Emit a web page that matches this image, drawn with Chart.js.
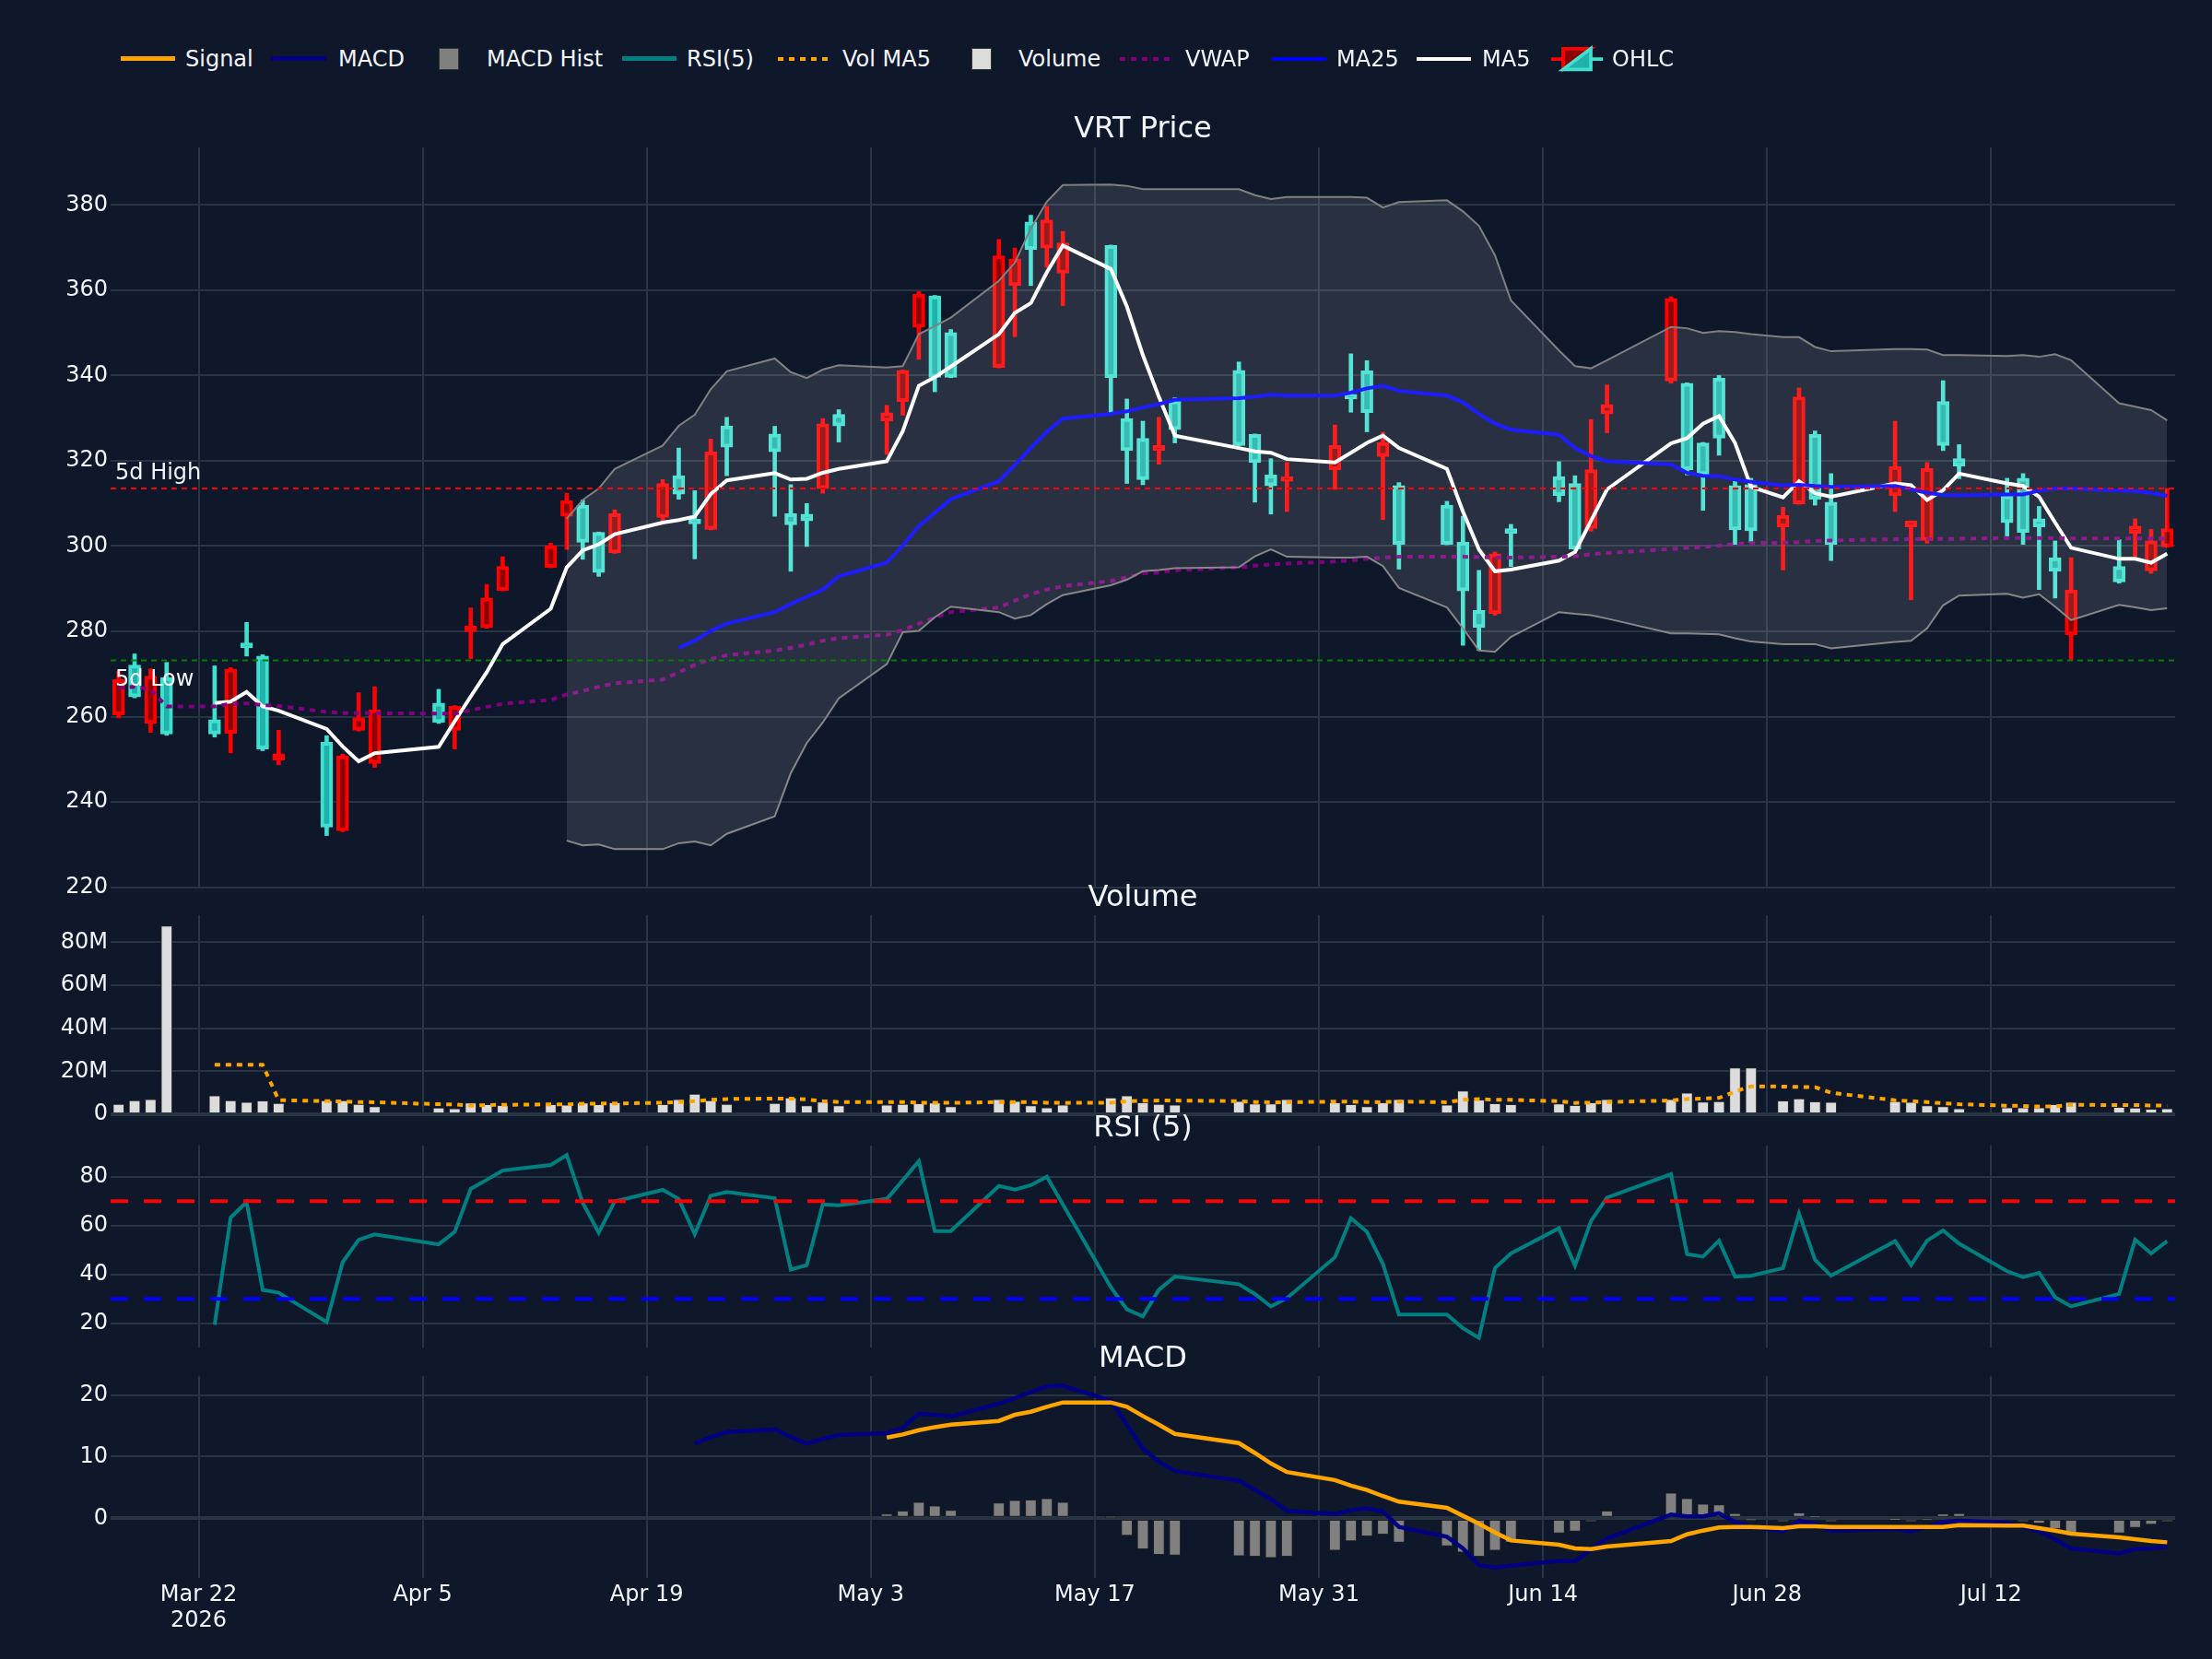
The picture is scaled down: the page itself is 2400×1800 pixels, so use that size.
<!DOCTYPE html>
<html>
<head>
<meta charset="utf-8">
<title>VRT Price</title>
<script src="https://cdn.jsdelivr.net/npm/chart.js@4.4.1/dist/chart.umd.min.js"></script>
<style>
  html, body { margin: 0; padding: 0; background: #0f172a; }
  #page { position: relative; width: 2400px; height: 1800px; overflow: hidden; background: #0f172a;
          font-family: "DejaVu Sans", sans-serif; color: #f2f5fa; }
  canvas { position: absolute; left: 0; }
  .title { position: absolute; font-size: 32px; line-height: 1; white-space: nowrap; transform: translate(-50%, -50%); }
  .lbl { position: absolute; top: 64px; font-size: 24px; line-height: 1; white-space: nowrap; transform: translateY(-50%); }
  .sw { position: absolute; }
  .dots { height: 4px; top: 62px; }
</style>
</head>
<body>
<div id="page">
  <canvas id="priceChart" width="2400" height="843" style="top:140px"></canvas>
  <canvas id="volumeChart" width="2400" height="256" style="top:973px"></canvas>
  <canvas id="rsiChart" width="2400" height="259" style="top:1223px"></canvas>
  <canvas id="macdChart" width="2400" height="327" style="top:1473px"></canvas>

  <div class="title" style="left:1240px;top:138px">VRT Price</div>
  <div class="title" style="left:1240px;top:972px">Volume</div>
  <div class="title" style="left:1240px;top:1222px">RSI (5)</div>
  <div class="title" style="left:1240px;top:1472px">MACD</div>

  <!-- legend -->
  <div class="sw" style="left:131px;top:61px;width:59px;height:5px;background:orange"></div>
  <div class="lbl" style="left:201px">Signal</div>
  <div class="sw" style="left:294px;top:61px;width:60px;height:5px;background:navy"></div>
  <div class="lbl" style="left:367px">MACD</div>
  <div class="sw" style="left:476px;top:52px;width:20px;height:22px;background:#808080;border:1px solid #333"></div>
  <div class="lbl" style="left:528px">MACD Hist</div>
  <div class="sw" style="left:675px;top:61px;width:59px;height:5px;background:teal"></div>
  <div class="lbl" style="left:745px">RSI(5)</div>
  <div class="sw dots" style="left:844px;width:56px;background:repeating-linear-gradient(to right, orange 0 6px, transparent 6px 12px)"></div>
  <div class="lbl" style="left:914px">Vol MA5</div>
  <div class="sw" style="left:1054px;top:52px;width:20px;height:22px;background:#dcdcdc;border:1px solid #333"></div>
  <div class="lbl" style="left:1105px">Volume</div>
  <div class="sw dots" style="left:1215px;width:54px;background:repeating-linear-gradient(to right, purple 0 6px, transparent 6px 12px)"></div>
  <div class="lbl" style="left:1286px">VWAP</div>
  <div class="sw" style="left:1380px;top:62px;width:59px;height:4px;background:blue"></div>
  <div class="lbl" style="left:1450px">MA25</div>
  <div class="sw" style="left:1537px;top:62px;width:59px;height:4px;background:white"></div>
  <div class="lbl" style="left:1608px">MA5</div>
  <svg class="sw" style="left:1681px;top:47px" width="60" height="34" viewBox="-16 -9 32 18">
    <path d="M-15,0H-8M-8,6V-6H8Z" fill="darkred" stroke="red" stroke-width="2"/>
    <path d="M15,0H8M8,-6V6H-8Z" fill="lightseagreen" stroke="turquoise" stroke-width="2"/>
  </svg>
  <div class="lbl" style="left:1749px">OHLC</div>
</div>

<script>
// ---- data ----
const dates = [
  '2026-03-17','2026-03-18','2026-03-19','2026-03-20',
  '2026-03-23','2026-03-24','2026-03-25','2026-03-26','2026-03-27',
  '2026-03-30','2026-03-31','2026-04-01','2026-04-02',
  '2026-04-06','2026-04-07','2026-04-08','2026-04-09','2026-04-10',
  '2026-04-13','2026-04-14','2026-04-15','2026-04-16','2026-04-17',
  '2026-04-20','2026-04-21','2026-04-22','2026-04-23','2026-04-24',
  '2026-04-27','2026-04-28','2026-04-29','2026-04-30','2026-05-01',
  '2026-05-04','2026-05-05','2026-05-06','2026-05-07','2026-05-08',
  '2026-05-11','2026-05-12','2026-05-13','2026-05-14','2026-05-15',
  '2026-05-18','2026-05-19','2026-05-20','2026-05-21','2026-05-22',
  '2026-05-26','2026-05-27','2026-05-28','2026-05-29',
  '2026-06-01','2026-06-02','2026-06-03','2026-06-04','2026-06-05',
  '2026-06-08','2026-06-09','2026-06-10','2026-06-11','2026-06-12',
  '2026-06-15','2026-06-16','2026-06-17','2026-06-18',
  '2026-06-22','2026-06-23','2026-06-24','2026-06-25','2026-06-26','2026-06-27',
  '2026-06-29','2026-06-30','2026-07-01','2026-07-02',
  '2026-07-06','2026-07-07','2026-07-08','2026-07-09','2026-07-10',
  '2026-07-13','2026-07-14','2026-07-15','2026-07-16','2026-07-17',
  '2026-07-20','2026-07-21','2026-07-22','2026-07-23'
];

const opens = [
  268.7, 264.6, 269.5, 255.9, 255.9, 271.2, 276.1, 252.4, 251.3, 234.1,
  250.8, 259.7, 261.6, 258.6, 262.4, 281.3, 287.8, 295.2, 300.1, 310.7,
  300.9, 293.8, 307.6, 314.7, 312.2, 305.2, 322.1, 323.2, 322.1, 305.0,
  305.9, 328.7, 328.2, 331.3, 341.2, 359.1, 339.6, 339.6, 368.1, 367.4,
  369.6, 376.5, 371.1, 339.5, 322.4, 315.6, 323.6, 327.3, 323.6, 319.6,
  314.1, 315.9, 323.6, 334.5, 331.3, 324.3, 300.4, 300.4, 289.5, 280.9,
  298.2, 303.0, 311.8, 299.3, 317.9, 333.2, 358.1, 317.9, 316.7, 325.3,
  303.8, 303.6, 307.2, 335.0, 311.0, 300.4, 318.7, 305.9, 318.2, 323.6,
  318.7, 305.5, 303.2, 304.5, 294.1, 289.7, 291.6, 304.7, 301.2, 304.1
];
const highs = [
  270.7, 274.7, 271.2, 272.7, 271.9, 271.5, 282.1, 274.5, 256.8, 255.5,
  251.2, 265.6, 267.0, 266.4, 262.6, 285.5, 291.0, 297.5, 300.7, 312.4,
  310.8, 303.3, 308.5, 315.6, 323.0, 313.0, 325.1, 330.2, 328.1, 314.4,
  310.0, 329.9, 332.0, 333.0, 341.3, 359.7, 358.8, 350.8, 371.9, 369.9,
  377.6, 379.7, 373.8, 370.6, 334.5, 329.3, 330.2, 334.8, 343.2, 326.3,
  320.5, 319.6, 328.4, 345.1, 343.5, 326.7, 314.9, 310.5, 307.0, 294.3,
  298.6, 305.1, 319.8, 316.5, 329.7, 337.8, 358.5, 338.3, 324.3, 340.0,
  315.2, 315.9, 309.1, 337.1, 327.0, 317.0, 329.3, 305.9, 319.6, 338.8,
  323.8, 315.9, 317.0, 309.3, 301.2, 297.3, 301.5, 306.4, 303.9, 313.5
];
const lows = [
  259.7, 264.4, 256.3, 255.6, 255.2, 251.5, 274.2, 252.0, 248.7, 232.1,
  233.0, 256.6, 248.1, 258.4, 252.4, 273.6, 280.7, 289.5, 294.9, 299.2,
  296.9, 292.9, 298.3, 305.9, 311.0, 297.0, 303.8, 316.5, 307.0, 294.1,
  299.9, 312.4, 324.4, 321.5, 330.7, 343.8, 336.2, 339.5, 341.8, 349.1,
  361.1, 365.4, 356.4, 330.8, 314.7, 314.4, 319.2, 324.2, 323.5, 310.3,
  307.5, 308.1, 313.3, 331.4, 326.8, 306.2, 294.6, 300.3, 276.7, 275.5,
  283.8, 295.2, 310.4, 299.2, 303.5, 326.6, 338.2, 316.7, 308.4, 321.3,
  300.4, 300.9, 294.4, 309.8, 309.6, 296.6, 308.1, 287.4, 300.7, 322.4,
  315.8, 302.1, 300.4, 289.8, 287.8, 273.2, 291.3, 297.0, 293.6, 299.7
];
const closes = [
  260.4, 272.1, 258.4, 269.1, 259.3, 256.1, 277.3, 274.2, 249.8, 254.0,
  233.2, 256.8, 249.0, 263.2, 256.8, 279.9, 280.9, 289.6, 295.0, 307.0,
  309.6, 303.2, 298.4, 306.7, 316.5, 305.8, 303.9, 328.2, 326.3, 307.6,
  307.5, 313.5, 330.9, 329.3, 333.9, 351.3, 358.7, 350.1, 341.9, 361.1,
  376.0, 369.9, 364.0, 370.5, 329.9, 325.3, 322.4, 334.1, 341.2, 326.2,
  316.7, 315.2, 317.9, 335.0, 341.1, 321.0, 314.2, 309.6, 300.9, 284.9,
  284.1, 303.8, 316.3, 314.7, 304.1, 331.0, 338.7, 338.2, 324.2, 339.4,
  314.2, 314.4, 304.5, 309.9, 326.2, 310.3, 311.8, 304.5, 301.3, 333.9,
  320.5, 311.8, 315.9, 306.4, 297.3, 279.2, 295.2, 303.0, 294.2, 299.8
];

const ma5 = [
  null, null, null, null,
  263.2, 263.5, 265.8, 262.4, 261.4, 257.1, 253.0, 249.5, 251.4, 252.9,
  258.9, 264.7, 270.4, 277.0, 285.3, 295.0, 299.0, 300.4, 302.8, 305.5,
  306.1, 306.9, 312.2, 315.4, 317.1, 315.6, 315.8, 317.2, 318.1, 319.9,
  327.0, 337.6, 339.6, 342.1, 349.7, 354.7, 357.0, 364.2, 370.5, 365.0,
  356.2, 344.8, 335.0, 325.9, 323.0, 322.2, 321.9, 320.4, 319.6, 321.9,
  324.2, 325.9, 323.0, 318.1, 308.1, 299.2, 294.1, 294.5, 296.6, 298.6,
  305.9, 313.3, 324.1, 325.3, 328.7, 330.5, 324.2, 313.9, 311.4, 315.2,
  312.4, 311.6, 314.7, 314.3, 310.8, 313.1, 317.0, 314.7, 314.1, 311.6,
  305.5, 299.6, 297.0, 297.0, 296.1, 298.2
];
const ma25 = [
  null, null, null, null, null, null, null, null, null, null, null, null,
  null, null, null, null, null, null, null, null, null, null, null, null,
  276.1, 277.8, 280.1, 281.8, 284.5, 286.4, 288.1, 289.8, 292.9, 296.1,
  300.1, 304.7, 307.8, 311.0, 315.2, 319.0, 323.0, 326.8, 329.9, 331.0,
  331.6, 332.5, 333.3, 334.3, 334.7, 335.0, 335.5, 335.3, 335.3, 336.0,
  337.0, 337.6, 336.4, 335.3, 333.7, 331.0, 328.7, 327.3, 326.1, 323.0,
  321.1, 319.9, 319.2, 317.2, 316.5, 316.4, 315.6, 315.1, 314.2, 314.4,
  314.1, 313.9, 314.1, 313.3, 312.5, 312.0, 311.9, 312.1, 312.1, 313.0,
  313.5, 313.5, 313.0, 312.9, 312.5, 311.8
];
const vwap = [
  266.7, 267.0, 266.3, 262.4, 262.4, 263.0, 263.1, 262.7, 262.5, 261.1,
  260.8, 260.8, 260.8, 260.7, 260.7, 261.5, 262.3, 263.0, 263.9, 265.2,
  266.0, 267.0, 267.8, 268.7, 270.4, 272.1, 273.5, 274.4, 275.5, 276.1,
  276.9, 277.8, 278.4, 279.2, 280.3, 281.8, 283.2, 284.5, 285.6, 287.2,
  288.7, 289.8, 290.6, 291.8, 292.7, 293.6, 293.8, 294.3, 295.0, 295.4,
  295.7, 295.9, 296.4, 296.6, 297.0, 297.3, 297.5, 297.5, 297.5, 297.4,
  297.3, 297.3, 297.5, 297.6, 298.1, 298.4, 299.3, 299.6, 299.8, 300.1,
  300.5, 300.7, 300.8, 300.9, 301.2, 301.3, 301.6, 301.6, 301.6, 301.7,
  301.7, 301.9, 301.9, 301.9, 301.9, 301.8, 301.8, 301.8, 301.8, 301.7
];
const bbUpper = [
  null, null, null, null, null, null, null, null, null, null,
  null, null, null, null, null, null, null, null, null,
  306.4, 310.8, 313.5, 318.1, 323.6, 328.2, 330.8, 336.8, 341.0, 344.0,
  340.8, 339.4, 341.4, 342.4, 341.9, 342.2, 349.7, 351.6, 353.6, 362.2,
  366.5, 374.5, 380.8, 384.7, 384.8, 384.5, 383.7, 383.7, 383.7, 383.7,
  382.3, 381.4, 381.9, 381.9, 381.9, 381.7, 379.4, 380.7, 381.1, 378.5,
  375.1, 368.2, 357.6, 345.9, 342.2, 341.7, 343.6, 351.4, 351.1, 350.0,
  350.4, 350.2, 349.7, 349.0, 349.0, 346.7, 345.7, 346.2, 346.2, 346.1,
  344.8, 344.8, 344.6, 344.8, 344.4, 345.0, 343.6, 333.5, 332.7, 331.9,
  329.5
];
const bbLower = [
  null, null, null, null, null, null, null, null, null, null,
  null, null, null, null, null, null, null, null, null,
  230.9, 229.8, 230.0, 228.9, 228.9, 230.3, 230.7, 229.8, 232.5, 236.6,
  246.7, 253.8, 258.6, 264.3, 272.3, 279.8, 280.1, 283.3, 285.8, 284.5,
  283.0, 283.8, 286.4, 288.5, 290.8, 292.1, 294.1, 294.4, 294.8, 295.0,
  297.6, 299.2, 297.5, 297.3, 297.3, 297.5, 295.3, 290.2, 285.6, 280.7,
  275.5, 275.2, 278.7, 284.5, 284.1, 283.8, 283.0, 279.5, 279.5, 279.4,
  279.3, 278.4, 277.6, 277.0, 277.0, 277.0, 276.0, 277.5, 277.8, 280.7,
  286.1, 288.4, 288.8, 287.9, 288.7, 285.8, 282.6, 286.2, 285.6, 285.0,
  285.4
];

// volume in millions of shares
const volume = [
  4.7, 6.4, 6.9, 87.6, 8.6, 6.4, 5.6, 6.3, 5.1, 6.4,
  6.4, 4.7, 3.6, 3.0, 2.6, 5.3, 4.6, 4.1, 4.6, 4.4,
  5.3, 4.6, 5.4, 4.6, 6.9, 9.4, 6.4, 4.7, 5.1, 7.7,
  4.0, 5.7, 4.0, 4.4, 4.7, 5.0, 5.3, 3.6, 6.9, 6.1,
  4.0, 3.1, 4.4, 7.7, 8.6, 5.4, 4.7, 4.4, 6.1, 4.9,
  4.9, 6.9, 5.4, 4.6, 3.6, 5.4, 6.9, 4.4, 10.9, 6.7,
  5.0, 4.6, 4.9, 4.1, 5.4, 6.9, 6.9, 9.9, 5.7, 6.0,
  21.6, 21.6, 6.3, 7.3, 5.9, 5.6, 6.0, 5.6, 4.0, 3.6,
  2.6, 3.1, 3.1, 3.1, 4.6, 5.6, 3.3, 3.0, 2.4, 2.6
];
const volMA5 = [
  null, null, null, null,
  23.0, 23.0, 23.0, 23.0, 6.6, 6.1, 6.0, 5.7, 5.6, 4.7,
  4.6, 4.0, 4.3, 4.4, 4.6, 4.6, 4.9, 5.0, 5.0, 5.4,
  5.7, 6.1, 6.7, 7.1, 7.3, 7.3, 6.9, 6.1, 5.7, 5.7,
  5.7, 5.4, 5.4, 5.3, 5.7, 5.7, 5.6, 5.4, 5.3, 5.4,
  6.0, 6.3, 6.4, 6.4, 6.1, 5.7, 5.6, 5.6, 5.9, 5.9,
  5.7, 5.7, 5.9, 5.6, 6.7, 7.1, 6.7, 6.7, 6.1, 5.3,
  5.4, 5.7, 6.4, 7.1, 7.3, 7.6, 10.6, 13.0, 12.9, 12.7,
  12.6, 10.0, 6.5, 6.1, 5.7, 5.1, 4.7, 4.0, 3.9, 3.6,
  3.7, 4.4, 4.3, 4.3, 4.1, 4.0
];

const rsi = [
  null, null, null, null,
  19.4, 63.3, 69.6, 33.7, 32.5, 20.5, 45.0, 54.2, 56.4, 52.3,
  57.4, 75.0, 78.7, 82.5, 84.8, 88.8, 69.3, 57.1, 69.9, 74.6,
  70.9, 56.5, 72.2, 73.7, 71.2, 42.0, 43.8, 68.7, 68.3, 70.9,
  78.5, 86.3, 57.7, 57.7, 76.2, 74.7, 76.5, 80.0, 68.7, 34.7,
  25.7, 22.8, 33.7, 39.1, 36.0, 32.0, 26.9, 30.3, 47.0, 63.0,
  57.4, 44.2, 23.6, 23.6, 18.0, 14.0, 42.6, 48.6, 58.9, 43.6,
  61.8, 71.4, 81.0, 48.3, 47.3, 53.8, 39.1, 39.4, 42.6, 64.9,
  46.0, 39.5, 53.6, 43.8, 53.8, 58.0, 52.6, 41.3, 38.9, 40.6,
  30.7, 26.9, 32.0, 54.2, 48.6, 53.6
];

const macd = [
  null, null, null, null, null, null, null, null, null, null,
  null, null, null, null, null, null, null, null, null, null,
  null, null, null, null, null,
  12.1, 13.2, 14.0, 14.4, 13.2, 12.1, 12.9, 13.5,
  13.8, 14.7, 17.0, 16.8, 16.5, 18.6, 19.5, 20.5, 21.4, 21.5,
  19.1, 15.2, 11.3, 9.2, 7.7, 6.1, 4.6, 3.1, 1.2, 0.7,
  1.3, 1.6, 1.1, -1.4, -3.0, -4.9, -7.6, -8.0, -7.7, -6.9,
  -7.0, -5.1, -3.3, 0.6, 0.3, 0.3, 0.8, -0.6, -1.4, -2.1,
  -0.4, -0.9, -2.0, -1.7, -2.1, -1.4, -0.6, -0.4, -0.7, -1.4,
  -2.1, -3.4, -4.9, -5.7, -5.0, -4.9, -4.6
];
const signal = [
  null, null, null, null, null, null, null, null, null, null,
  null, null, null, null, null, null, null, null, null, null,
  null, null, null, null, null, null, null, null, null, null,
  null, null, null,
  13.1, 13.6, 14.3, 14.8, 15.2, 15.8, 16.8, 17.3, 18.1, 18.8,
  18.8, 18.1, 16.6, 15.2, 13.7, 12.2, 10.6, 8.9, 7.5, 6.2,
  5.3, 4.6, 3.6, 2.7, 1.7, 0.4, -0.9, -2.3, -3.6, -4.3,
  -4.9, -5.0, -4.6, -3.7, -2.6, -2.0, -1.5, -1.4, -1.4, -1.6,
  -1.3, -1.3, -1.4, -1.4, -1.4, -1.4, -1.4, -1.1, -1.2, -1.2,
  -1.6, -2.0, -2.5, -3.1, -3.4, -3.7, -3.9
];
const macdHist = [
  null, null, null, null, null, null, null, null, null, null,
  null, null, null, null, null, null, null, null, null, null,
  null, null, null, null, null, null, null, null, null, null,
  null, null, null,
  0.7, 1.2, 2.6, 2.0, 1.3, 2.5, 2.9, 3.0, 3.2, 2.6,
  0.1, -2.8, -5.0, -5.9, -6.0, -6.1, -6.2, -6.4, -6.2, -5.2,
  -3.7, -2.9, -2.6, -3.9, -4.5, -5.5, -6.2, -5.2, -3.9, -2.4,
  -2.1, -0.5, 1.2, 4.1, 3.2, 2.3, 2.2, 0.8, -0.15, -0.5,
  0.9, 0.3, -0.5, -0.1, -0.5, -0.05, 0.7, 0.8, 0.0, -0.5,
  -0.8, -1.7, -2.3, -2.4, -1.5, -1.0, -0.5
];

const fiveDayHigh = 313.5;
const fiveDayLow = 273.2;
const rsiOverbought = 70;
const rsiOversold = 30;

const xTickDates = ['2026-03-22','2026-04-05','2026-04-19','2026-05-03','2026-05-17','2026-05-31','2026-06-14','2026-06-28','2026-07-12'];
const xTickLabels = [['Mar 22','2026'],'Apr 5','Apr 19','May 3','May 17','May 31','Jun 14','Jun 28','Jul 12'];
const priceTicks = [220, 240, 260, 280, 300, 320, 340, 360, 380];
const volumeTicks = [0, 20, 40, 60, 80];
const rsiTicks = [20, 40, 60, 80];
const macdTicks = [0, 10, 20];

// ---- helpers ----
const FONT = 'DejaVu Sans';
const TXT = '#f2f5fa';
const GRID = '#283442';
const X_MIN = -5.5, X_MAX = 123.5;

const day0 = Date.UTC(2026, 2, 22);
function dayOf(s) {
  const [y, m, d] = s.split('-').map(Number);
  return (Date.UTC(y, m - 1, d) - day0) / 86400000;
}
const xs = dates.map(dayOf);
const pts = arr => arr.map((v, i) => ({ x: xs[i], y: v }));
const hline = v => [{ x: X_MIN, y: v }, { x: X_MAX, y: v }];

Chart.defaults.font.family = FONT;

function xAxis(showLabels) {
  return {
    type: 'linear', min: X_MIN, max: X_MAX, offset: false,
    afterBuildTicks: s => { s.ticks = xTickDates.map(d => ({ value: dayOf(d) })); },
    afterFit: s => { s.height = showLabels ? 88 : 0; },
    grid: { color: GRID, lineWidth: 2, drawTicks: false, offset: false },
    border: { display: false },
    ticks: {
      display: showLabels, padding: 4, maxRotation: 0, autoSkip: false,
      color: TXT, font: { family: FONT, size: 24 },
      callback: v => {
        const i = xTickDates.findIndex(d => dayOf(d) === v);
        return i >= 0 ? xTickLabels[i] : '';
      }
    }
  };
}

function yAxis(min, max, ticks, fmt, zeroLine) {
  return {
    type: 'linear', min, max,
    afterBuildTicks: s => { s.ticks = ticks.map(v => ({ value: v })); },
    afterFit: s => { s.width = 120; },
    grid: {
      color: GRID, drawTicks: false,
      lineWidth: c => (zeroLine && c.tick && c.tick.value === 0) ? 4 : 2
    },
    border: { display: false },
    ticks: { color: TXT, padding: 3, font: { family: FONT, size: 24 }, callback: fmt }
  };
}

function baseOptions(x, y, bottomPad) {
  return {
    responsive: false, animation: false, devicePixelRatio: 1, events: [],
    layout: { padding: { left: 0, right: 40, top: 20, bottom: bottomPad } },
    plugins: { legend: { display: false }, tooltip: { enabled: false } },
    scales: { x, y }
  };
}

const line = (data, color, width, extra) => Object.assign({
  type: 'line', data, borderColor: color, borderWidth: width,
  pointRadius: 0, tension: 0, fill: false
}, extra || {});

// ---- price ----
const up = closes.map((c, i) => c >= opens[i]);

const levelLabels = {
  id: 'levelLabels',
  afterDatasetsDraw(chart) {
    const { ctx, chartArea, scales: { y } } = chart;
    ctx.save();
    ctx.font = '24px "DejaVu Sans"';
    ctx.fillStyle = TXT;
    ctx.textAlign = 'left';
    ctx.textBaseline = 'alphabetic';
    ctx.fillText('5d High', chartArea.left + 5, y.getPixelForValue(fiveDayHigh) - 10);
    ctx.fillText('5d Low', chartArea.left + 5, y.getPixelForValue(fiveDayLow) + 28);
    ctx.restore();
  }
};

new Chart(document.getElementById('priceChart'), {
  type: 'line',
  data: {
    datasets: [
      {
        type: 'bar', label: 'wick', grouped: false, order: 10,
        data: xs.map((x, i) => ({ x, y: [lows[i], highs[i]] })),
        backgroundColor: up.map(u => u ? '#40e0d0' : '#ff0000'),
        borderWidth: 0, barThickness: 4
      },
      {
        type: 'bar', label: 'OHLC', grouped: false, order: 9,
        data: xs.map((x, i) => ({ x, y: [opens[i], closes[i]] })),
        backgroundColor: up.map(u => u ? '#20b2aa' : '#8b0000'),
        borderColor: up.map(u => u ? '#40e0d0' : '#ff0000'),
        borderWidth: 4, borderSkipped: false, barThickness: 13, minBarLength: 5
      },
      line(pts(ma5), '#ffffff', 4, { order: 8, label: 'MA5' }),
      line(pts(ma25), '#0000ff', 4, { order: 7, label: 'MA25' }),
      line(pts(vwap), '#800080', 4, { order: 6, label: 'VWAP', borderDash: [6, 6] }),
      line(pts(bbUpper), '#808080', 2, { order: 5, fill: '+1', backgroundColor: 'rgba(255,255,255,0.11)' }),
      line(pts(bbLower), '#808080', 2, { order: 5 }),
      line(hline(fiveDayHigh), '#ff0000', 2, { order: 4, borderDash: [6, 5] }),
      line(hline(fiveDayLow), '#008000', 2, { order: 4, borderDash: [6, 5] })
    ]
  },
  options: baseOptions(xAxis(false), yAxis(219.9, 393.5, priceTicks, v => String(v), false), 20),
  plugins: [levelLabels]
});

// ---- volume ----
new Chart(document.getElementById('volumeChart'), {
  type: 'line',
  data: {
    datasets: [
      {
        type: 'bar', label: 'Volume', grouped: false, order: 2,
        data: pts(volume), backgroundColor: '#dcdcdc',
        borderColor: '#2a2a2a', borderWidth: 1, barThickness: 12
      },
      line(pts(volMA5), '#ffa500', 4, { order: 1, label: 'Vol MA5', borderDash: [6, 6] })
    ]
  },
  options: baseOptions(xAxis(false), yAxis(0, 92.6, volumeTicks, v => v === 0 ? '0' : v + 'M', true), 20)
});

// ---- RSI ----
new Chart(document.getElementById('rsiChart'), {
  type: 'line',
  data: {
    datasets: [
      line(pts(rsi), '#008080', 4, { order: 2, label: 'RSI(5)' }),
      line(hline(rsiOverbought), '#ff0000', 4, { order: 1, borderDash: [19, 17] }),
      line(hline(rsiOversold), '#0000ff', 4, { order: 1, borderDash: [19, 17] })
    ]
  },
  options: baseOptions(xAxis(false), yAxis(10.1, 92.7, rsiTicks, v => String(v), false), 20)
});

// ---- MACD ----
new Chart(document.getElementById('macdChart'), {
  type: 'line',
  data: {
    datasets: [
      {
        type: 'bar', label: 'MACD Hist', grouped: false, order: 3,
        data: pts(macdHist), backgroundColor: '#808080',
        borderColor: '#222222', borderWidth: 1, borderSkipped: false, barThickness: 12
      },
      line(pts(macd), '#000080', 4.5, { order: 2, label: 'MACD' }),
      line(pts(signal), '#ffa500', 4.5, { order: 1, label: 'Signal' })
    ]
  },
  options: baseOptions(xAxis(true), yAxis(-9.68, 23.09, macdTicks, v => String(v), true), 0)
});
</script>
</body>
</html>
